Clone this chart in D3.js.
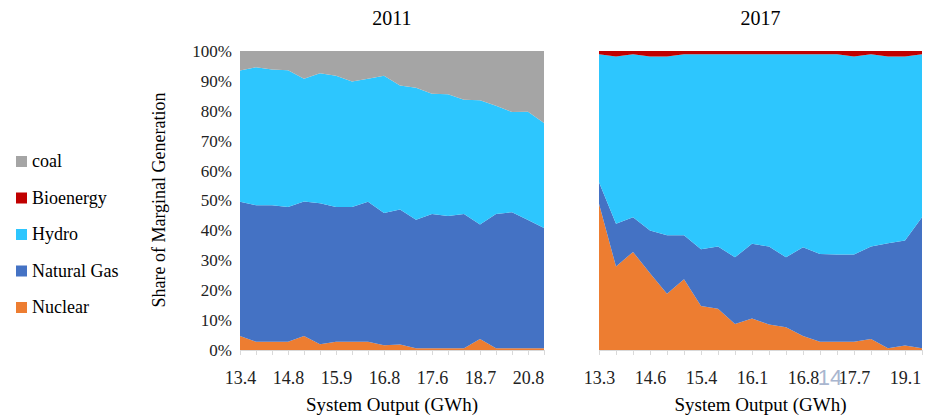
<!DOCTYPE html>
<html><head><meta charset="utf-8">
<script src="https://cdn.jsdelivr.net/npm/d3@7"></script>
<style>body{margin:0;background:#fff}text{font-family:"Liberation Serif","Times New Roman",serif}</style>
</head><body><div class="chart"></div>
<script>
var width = 937, height = 416

var keys = ['nuclear', 'gas', 'hydro', 'bio', 'coal']
var names = {coal: 'coal', bio: 'Bioenergy', hydro: 'Hydro', gas: 'Natural Gas', nuclear: 'Nuclear'}
var colors = {coal: '#a5a5a5', bio: '#c00000', hydro: '#2dc6fe', gas: '#4472c4', nuclear: '#ed7d31'}

// 2011, cumulative tops (%)
var labels2011 = ['13.4', '', '', '14.8', '', '', '15.9', '', '', '16.8', '', '', '17.6', '', '', '18.7', '', '', '20.8', '']
var nuc2011 = [4.7, 2.8, 2.8, 2.8, 4.7, 1.9, 2.8, 2.8, 2.8, 1.6, 1.8, 0.6, 0.6, 0.6, 0.6, 3.7, 0.6, 0.6, 0.6, 0.6]
var gasTop2011 = [49.6, 48.4, 48.4, 47.8, 49.7, 49.1, 47.8, 47.8, 49.6, 45.8, 47.0, 43.6, 45.5, 44.8, 45.5, 42.0, 45.5, 46.1, 43.5, 40.8]
var hydroTop2011 = [93.5, 94.6, 93.8, 93.6, 90.7, 92.6, 91.7, 89.8, 90.7, 91.7, 88.5, 87.7, 85.7, 85.5, 83.7, 83.5, 81.7, 79.6, 79.7, 75.9]

// 2017
var labels2017 = ['13.3', '', '', '14.6', '', '', '15.4', '', '', '16.1', '', '', '16.8', '', '', '17.7', '', '', '19.1', '']
var nuc2017 = [48.9, 27.9, 32.8, 25.7, 18.8, 23.7, 14.7, 13.8, 8.7, 10.5, 8.5, 7.6, 4.7, 2.8, 2.8, 2.8, 3.7, 0.6, 1.5, 0.6]
var gasTop2017 = [56.1, 42.2, 44.4, 40.0, 38.4, 38.4, 33.7, 34.6, 31.0, 35.5, 34.6, 31.0, 34.4, 32.1, 31.9, 31.9, 34.6, 35.7, 36.6, 44.4]
var hydroTop2017 = [98.9, 98.2, 98.9, 98.2, 98.2, 98.9, 98.9, 98.9, 98.9, 98.9, 98.9, 98.9, 98.9, 98.9, 98.9, 98.2, 98.9, 98.2, 98.2, 98.9]
var bioTop2017 = [100, 100, 100, 100, 100, 100, 100, 100, 100, 100, 100, 100, 100, 100, 100, 100, 100, 100, 100, 100]

var yTicks = [0, 10, 20, 30, 40, 50, 60, 70, 80, 90, 100]

function rows(nuc, gasTop, hydroTop, bioTop) {
    return nuc.map(function (n, i) {
        var b = bioTop ? bioTop[i] : hydroTop[i]
        return {i: i, nuclear: n, gas: gasTop[i] - n, hydro: hydroTop[i] - gasTop[i], bio: b - hydroTop[i], coal: 100 - b}
    })
}

var svg = d3.select('.chart').append('svg').attr('width', width).attr('height', height)
var y = d3.scaleLinear().domain([0, 100]).range([350, 51])

function panel(data, labels, x0, x1, title, showY) {
    var x = d3.scaleLinear().domain([0, data.length - 1]).range([x0, x1])
    var series = d3.stack().keys(keys)(data)
    var area = d3.area().x(function (d) { return x(d.data.i) }).y0(function (d) { return y(d[0]) }).y1(function (d) { return y(d[1]) })
    svg.append('g').selectAll('path').data(series).enter().append('path')
        .attr('d', area).attr('fill', function (d) { return colors[d.key] })
    var ax = svg.append('g').attr('transform', 'translate(0,350)')
        .call(d3.axisBottom(x).tickValues(d3.range(data.length)).tickSize(5).tickFormat(function (i) { return labels[i] }))
    ax.select('.domain').attr('stroke', '#d9d9d9')
    ax.selectAll('line').attr('stroke', '#d9d9d9')
    ax.selectAll('text').attr('font-size', 18).attr('fill', '#222').attr('dy', '1.45em')
    svg.append('text').attr('x', (x0 + x1) / 2).attr('y', 25).attr('text-anchor', 'middle').attr('font-size', 20).text(title)
    svg.append('text').attr('x', (x0 + x1) / 2).attr('y', 411).attr('text-anchor', 'middle').attr('font-size', 19).text('System Output (GWh)')
    if (showY) {
        var ay = svg.append('g').attr('transform', 'translate(' + x0 + ',0)')
            .call(d3.axisLeft(y).tickValues(yTicks).tickSize(0).tickPadding(8).tickFormat(function (d) { return d + '%' }))
        ay.select('.domain').remove()
        ay.selectAll('text').attr('font-size', 17).attr('fill', '#222')
    }
}

panel(rows(nuc2011, gasTop2011, hydroTop2011), labels2011, 240, 544, '2011', true)
panel(rows(nuc2017, gasTop2017, hydroTop2017, bioTop2017), labels2017, 599, 922, '2017', false)

svg.append('text').attr('transform', 'translate(165,200) rotate(-90)').attr('text-anchor', 'middle')
    .attr('font-size', 18).text('Share of Marginal Generation')

var legendKeys = ['coal', 'bio', 'hydro', 'gas', 'nuclear']
var lg = svg.append('g').selectAll('g').data(legendKeys).enter().append('g')
    .attr('transform', function (d, i) { return 'translate(16,' + (162 + i * 36.5) + ')' })
lg.append('rect').attr('x', 0).attr('y', -6).attr('width', 11).attr('height', 11).attr('fill', function (d) { return colors[d] })
lg.append('text').attr('x', 16).attr('y', 5).attr('font-size', 18).text(function (d) { return names[d] })

svg.append('text').attr('x', 830).attr('y', 385).attr('text-anchor', 'middle').attr('font-size', 22)
    .attr('fill', '#a9b6cf').style('font-family', 'Liberation Sans, sans-serif').text('14')
</script></body></html>
